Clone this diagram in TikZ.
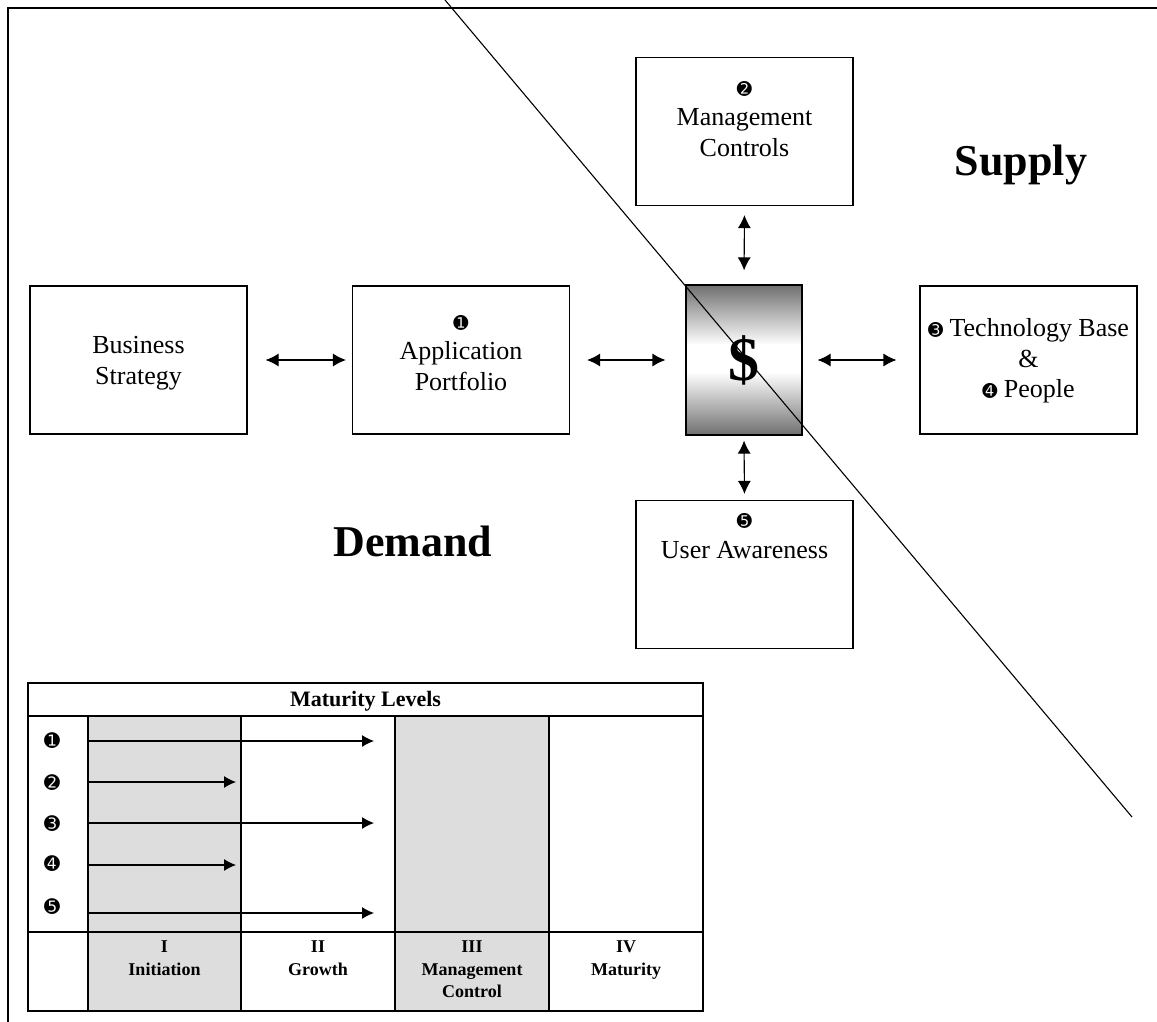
\documentclass[tikz,border=0pt]{standalone}
\usepackage{fontspec}
\setmainfont{Liberation Serif}
\newfontfamily\dingfont{DejaVu Sans}
\usetikzlibrary{arrows.meta}
\definecolor{shadedark}{RGB}{112,112,112}
\definecolor{colgray}{RGB}{221,221,221}
\pgfdeclareverticalshading{dollarshade}{100bp}{color(0bp)=(shadedark); color(25bp)=(shadedark); color(46bp)=(white); color(55bp)=(white); color(75bp)=(shadedark); color(100bp)=(shadedark)}
% black circled digits
\newcommand{\nb}[1]{{\dingfont\fontsize{18}{18}\selectfont #1}}
\newcommand{\tnb}[1]{{\dingfont\fontsize{19}{19}\selectfont #1}}

\begin{document}
\begin{tikzpicture}[x=1pt,y=-1pt,
  box/.style={draw, line width=1.1pt, inner sep=0pt, minimum width=217pt, minimum height=148pt},
  boxtext/.style={font=\fontsize{26}{30.5}\selectfont, align=center, inner sep=0pt},
  link/.style={line width=1.1pt, {Latex[length=13pt,width=13pt]}-{Latex[length=13pt,width=13pt]}},
  bigword/.style={font=\bfseries\fontsize{44}{44}\selectfont, inner sep=0pt},
  tline/.style={line width=1.4pt},
  tarrow/.style={line width=1.1pt, -{Latex[length=12pt,width=12pt]}},
  tnum/.style={inner sep=0pt},
  thead/.style={font=\bfseries\fontsize{22}{22}\selectfont, inner sep=0pt},
  tcol/.style={font=\bfseries\fontsize{18}{22.5}\selectfont, align=center, inner sep=0pt, anchor=north}]
\useasboundingbox (0,0) rectangle (1157,1022);

% outer frame (top and left edges)
\coordinate (fbl) at (8,1022);
\coordinate (ftl) at (8,8);
\coordinate (ftr) at (1157,8);
\draw[line width=2pt] (fbl) -- (ftl) -- (ftr);

% main boxes
\node[box] (bs) at (138.5,360) {};
\node[box] (ap) at (461,360) {};
\node[box] (tb) at (1028.5,360) {};
\node[box] (mc) at (744.5,131.5) {};
\node[box] (ua) at (744.5,574.5) {};
\node[draw, line width=1.1pt, inner sep=0pt, minimum width=116pt, minimum height=150pt,
      shading=dollarshade, font=\bfseries\fontsize{62}{62}\selectfont] (dol) at (744,360) {\$};

% box captions
\node[boxtext] (bst) at (138.5,363) {Business\\Strategy};
\node[boxtext] (apt) at (461,353) {\nb{➊}\\Application\\Portfolio};
\node[boxtext] (tbt) at (1028.5,361) {\nb{➌} Technology Base\\\&\\\nb{➍} People};
\node[boxtext] (mct) at (744.5,119) {\nb{➋}\\Management\\Controls};
\node[boxtext] (uat) at (744.5,536) {\nb{➎}\\User Awareness};

% connectors
\draw[link, shorten <=18pt, shorten >=6pt] (bs.east) -- (ap.west);
\draw[link, shorten <=17pt, shorten >=20pt] (ap.east) -- (dol.west);
\draw[link, shorten <=15pt, shorten >=23pt] (dol.east) -- (tb.west);
\draw[link, shorten <=9pt, shorten >=14pt] (mc.south) -- (dol.north);
\draw[link, shorten <=5pt, shorten >=6pt] (dol.south) -- (ua.north);

% dividing line
\coordinate (d1) at (445,0);
\coordinate (d2) at (1132,817);
\draw[line width=1.1pt] (d1) -- (d2);

% region labels
\node[bigword] (supply) at (1021,165) {Supply};
\node[bigword] (demand) at (413,541) {Demand};

% maturity table
\fill[colgray] (88,716) rectangle (241,1011);
\fill[colgray] (395,716) rectangle (549,1011);
\draw[tline] (28,683) rectangle (703,1011);
\draw[tline] (28,716) -- (703,716);
\draw[tline] (28,932) -- (703,932);
\foreach \cx in {88,241,395,549} {\draw[tline] (\cx,716) -- (\cx,1011);}

\node[thead] (mlev) at (365.5,701) {Maturity Levels};

\node[tnum] (n1) at (52,741) {\tnb{➊}};
\node[tnum] (n2) at (52,783) {\tnb{➋}};
\node[tnum] (n3) at (52,824) {\tnb{➌}};
\node[tnum] (n4) at (52,864) {\tnb{➍}};
\node[tnum] (n5) at (52,907) {\tnb{➎}};

\coordinate (a1s) at (88,741);  \coordinate (a1e) at (374,741);
\coordinate (a2s) at (88,782);  \coordinate (a2e) at (236,782);
\coordinate (a3s) at (88,823);  \coordinate (a3e) at (374,823);
\coordinate (a4s) at (88,865);  \coordinate (a4e) at (236,865);
\coordinate (a5s) at (88,913);  \coordinate (a5e) at (374,913);
\draw[tarrow] (a1s) -- (a1e);
\draw[tarrow] (a2s) -- (a2e);
\draw[tarrow] (a3s) -- (a3e);
\draw[tarrow] (a4s) -- (a4e);
\draw[tarrow] (a5s) -- (a5e);

\node[tcol] (c1) at (164.5,941) {I\\Initiation};
\node[tcol] (c2) at (318,941) {II\\Growth};
\node[tcol] (c3) at (472,941) {III\\Management\\Control};
\node[tcol] (c4) at (626,941) {IV\\Maturity};
\end{tikzpicture}
\end{document}
